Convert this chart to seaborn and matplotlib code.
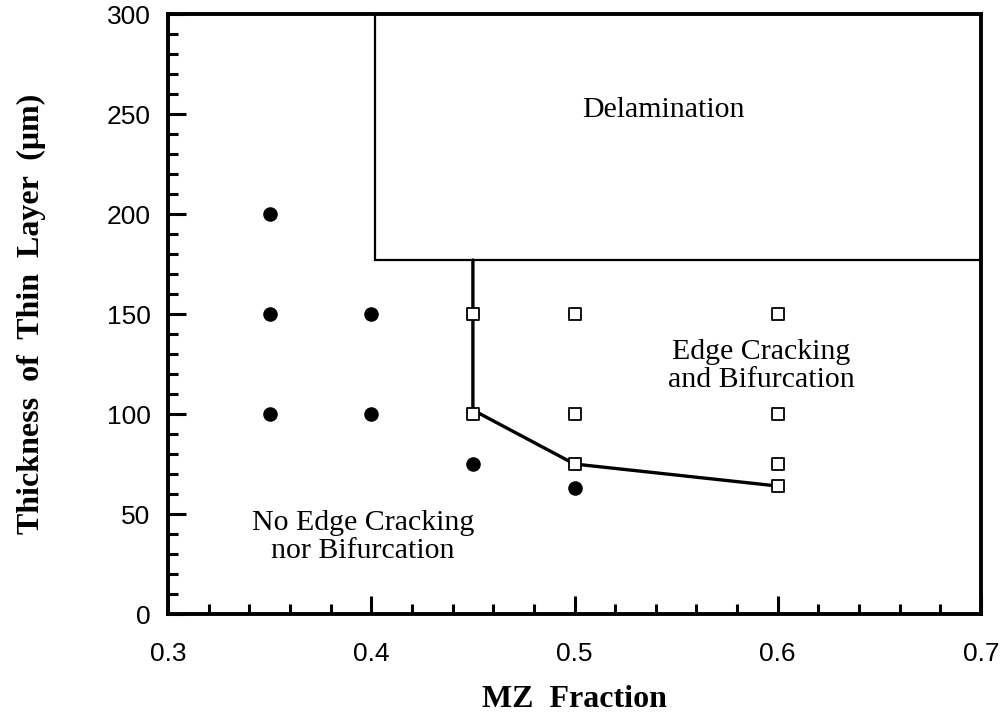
import matplotlib
matplotlib.use("Agg")
import matplotlib.pyplot as plt
from matplotlib.patches import Rectangle
from matplotlib.ticker import MultipleLocator, FuncFormatter
import pandas as pd
import seaborn as sns

# Observed specimens without edge cracking (filled circles)
intact_mz = [0.35, 0.35, 0.40, 0.35, 0.40, 0.45, 0.50]
intact_t = [200, 150, 150, 100, 100, 75, 63]

# Specimens with edge cracking and bifurcation (open squares)
cracked_mz = [0.45, 0.50, 0.60, 0.45, 0.50, 0.60, 0.50, 0.60, 0.60]
cracked_t = [150, 150, 150, 100, 100, 100, 75, 75, 64]

# Transition boundary between the regimes
boundary_mz = [0.45, 0.45, 0.50, 0.60]
boundary_t = [177, 102, 75, 64]

# Delamination region: lower-left corner
delam_mz = 0.402
delam_t = 177

sns.set_theme(style="white")
plt.rcParams["font.family"] = ["Liberation Sans", "DejaVu Sans"]
for key in ["text.color", "axes.labelcolor", "xtick.color", "ytick.color"]:
    plt.rcParams[key] = "black"

fig = plt.figure(figsize=(10.08, 7.18), dpi=100)
ax = fig.add_axes([0.1667, 0.1448, 0.8065, 0.8357])

intact = pd.DataFrame({"mz": intact_mz, "t": intact_t})
cracked = pd.DataFrame({"mz": cracked_mz, "t": cracked_t})
boundary = pd.DataFrame({"mz": boundary_mz, "t": boundary_t})

ax.add_patch(Rectangle((delam_mz, delam_t), 0.7 - delam_mz, 300 - delam_t,
                       fill=False, edgecolor="black", linewidth=1.6, zorder=2))

sns.lineplot(data=boundary, x="mz", y="t", ax=ax, color="black", linewidth=2.4,
             sort=False, estimator=None, zorder=3)
sns.scatterplot(data=intact, x="mz", y="t", ax=ax, marker="o", s=110,
                color="black", edgecolor="black", linewidth=0, zorder=4)
sns.scatterplot(data=cracked, x="mz", y="t", ax=ax, marker="s", s=75,
                facecolor="white", edgecolor="black", linewidth=1.3, zorder=4)

serif = ["Liberation Serif", "DejaVu Serif"]
ax.text(0.5435, 252, "Delamination", ha="center", va="center",
        fontsize=21.5, family=serif)
ax.text(0.592, 124, "Edge Cracking\nand Bifurcation", ha="center",
        va="center", fontsize=21.5, family=serif, linespacing=1.1)
ax.text(0.396, 38.5, "No Edge Cracking\nnor Bifurcation", ha="center",
        va="center", fontsize=21.5, family=serif, linespacing=1.1)

ax.set_xlim(0.3, 0.7)
ax.set_ylim(0, 300)
ax.xaxis.set_major_locator(MultipleLocator(0.1))
ax.xaxis.set_minor_locator(MultipleLocator(0.02))
ax.yaxis.set_major_locator(MultipleLocator(50))
ax.yaxis.set_minor_locator(MultipleLocator(10))
ax.xaxis.set_major_formatter(FuncFormatter(lambda v, p: f"{v:.1f}"))
ax.yaxis.set_major_formatter(FuncFormatter(lambda v, p: f"{v:.0f}"))

ax.tick_params(which="both", direction="in", top=False, right=False,
               left=True, bottom=True, colors="black", labelsize=19)
ax.tick_params(which="major", length=13, width=2.2)
ax.tick_params(which="minor", length=7, width=2.2)
ax.tick_params(axis="x", which="major", pad=20)
ax.tick_params(axis="y", which="major", pad=12.5)

for side in ["left", "right", "top", "bottom"]:
    ax.spines[side].set_visible(True)
    ax.spines[side].set_color("black")
    ax.spines[side].set_linewidth(2.8)

ax.set_xlabel("MZ  Fraction", fontsize=23, fontweight="bold", family=serif,
              labelpad=14)
ax.set_ylabel("Thickness  of  Thin  Layer  (\u03bcm)", fontsize=23,
              fontweight="bold", family=serif, labelpad=44)
ax.grid(False)

fig.savefig("out.png", dpi=100, facecolor="white")
